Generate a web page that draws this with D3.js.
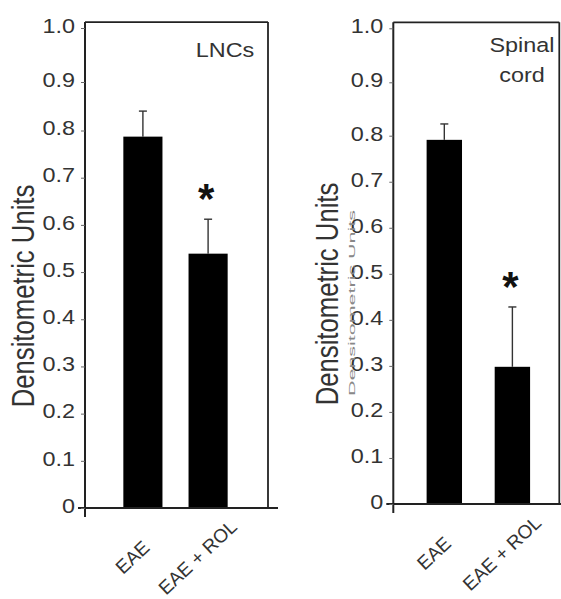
<!DOCTYPE html>
<html>
<head>
<meta charset="utf-8">
<script src="https://cdn.jsdelivr.net/npm/d3@7"></script>
<style>
  html, body { margin: 0; padding: 0; background: #fff; }
  svg { display: block; font-family: "Liberation Sans", Arial, sans-serif; }
</style>
</head>
<body>
<svg id="chart" width="561" height="599"></svg>
<script>
'use strict';

// data
var categories = ['EAE', 'EAE + ROL'];
var lncMeans = [0.787, 0.539];
var lncErrors = [0.053, 0.073];
var cordMeans = [0.791, 0.298];
var cordErrors = [0.031, 0.130];
var significance = ['', '*'];
var yTicks = [0, 0.1, 0.2, 0.3, 0.4, 0.5, 0.6, 0.7, 0.8, 0.9, 1.0];
var yTitle = 'Densitometric Units';

// the source image is stretched sideways, text gets the same squash
var stretch = 1.2;
var textColor = '#333';

var panels = [
  {
    means: lncMeans, errors: lncErrors, label: ['LNCs'],
    x0: 85, x1: 268, yRange: [508, 130.5, 82, 28],
    band: [110.3, 240.7], padIn: 0.4,
    titleX: 33.5, titleY: 296, labelX: 225, labelY: 57, ghost: false
  },
  {
    means: cordMeans, errors: cordErrors, label: ['Spinal', 'cord'],
    x0: 393.3, x1: 559.3, yRange: [504, 135.7, 82.3, 28.3],
    band: [413, 543.7], padIn: 0.48,
    titleX: 338, titleY: 294, labelX: 522, labelY: 52, ghost: true
  }
];

var svg = d3.select('#chart');

panels.forEach(function(p) {
  var g = svg.append('g');

  // axis in the figure is not evenly spaced near the top, so piecewise
  var y = d3.scaleLinear().domain([0, 0.8, 0.9, 1.0]).range(p.yRange);
  var x = d3.scaleBand().domain(categories).range(p.band)
    .paddingInner(p.padIn).paddingOuter(0.2);

  var yBase = y(0), yTop = y(1.011);

  // bars
  g.selectAll('rect.bar')
    .data(categories)
    .enter().append('rect')
    .attr('class', 'bar')
    .attr('x', function(d) { return x(d); })
    .attr('width', x.bandwidth())
    .attr('y', function(d, i) { return y(p.means[i]); })
    .attr('height', function(d, i) { return yBase - y(p.means[i]); })
    .attr('fill', '#000');

  // upper error bars only
  var err = g.selectAll('g.err')
    .data(categories)
    .enter().append('g')
    .attr('class', 'err')
    .attr('stroke', '#333')
    .attr('stroke-width', 1.4);
  err.append('line')
    .attr('x1', function(d) { return x(d) + x.bandwidth() / 2; })
    .attr('x2', function(d) { return x(d) + x.bandwidth() / 2; })
    .attr('y1', function(d, i) { return y(p.means[i]); })
    .attr('y2', function(d, i) { return y(p.means[i] + p.errors[i]); });
  err.append('line')
    .attr('x1', function(d) { return x(d) + x.bandwidth() / 2 - 4; })
    .attr('x2', function(d) { return x(d) + x.bandwidth() / 2 + 4; })
    .attr('y1', function(d, i) { return y(p.means[i] + p.errors[i]); })
    .attr('y2', function(d, i) { return y(p.means[i] + p.errors[i]); });

  // significance stars
  g.selectAll('text.star')
    .data(categories)
    .enter().append('text')
    .attr('class', 'star')
    .attr('x', function(d) { return x(d) + x.bandwidth() / 2 - 2; })
    .attr('y', function(d, i) { return y(p.means[i] + p.errors[i]) - 29 + 23; })
    .attr('text-anchor', 'middle')
    .attr('font-size', 42)
    .attr('font-weight', 'bold')
    .attr('fill', '#111')
    .text(function(d, i) { return significance[i]; });

  // frame
  var frame = g.append('g').attr('fill', 'none').attr('stroke', '#222');
  frame.append('line').attr('x1', p.x0).attr('x2', p.x0)
    .attr('y1', yTop).attr('y2', yBase + 9).attr('stroke-width', 2);
  frame.append('line').attr('x1', p.x0 - 7).attr('x2', Math.min(p.x1 + 10, 561))
    .attr('y1', yBase).attr('y2', yBase).attr('stroke-width', 2);
  frame.append('line').attr('x1', p.x0).attr('x2', p.x1)
    .attr('y1', yTop).attr('y2', yTop).attr('stroke-width', 1.8);
  frame.append('line').attr('x1', p.x1).attr('x2', p.x1)
    .attr('y1', yTop).attr('y2', yBase).attr('stroke-width', 1.8);

  // y axis
  var ax = g.append('g')
    .attr('transform', 'translate(' + p.x0 + ',0)')
    .call(d3.axisLeft(y).tickValues(yTicks).tickSize(4).tickSizeOuter(0)
      .tickFormat(function(d) { return d === 0 ? '0' : d3.format('.1f')(d); }));
  ax.select('.domain').remove();
  ax.selectAll('.tick line').attr('stroke', '#666');
  ax.selectAll('.tick text')
    .attr('font-family', '"Liberation Sans", Arial, sans-serif')
    .attr('font-size', 19.5)
    .attr('fill', textColor)
    .attr('x', -10 / stretch)
    .attr('dy', '0.22em')
    .attr('transform', 'scale(' + stretch + ',1)');

  // y title
  g.append('text')
    .attr('transform', 'translate(' + p.titleX + ',' + p.titleY + ') scale(' + stretch + ',1) rotate(-90)')
    .attr('text-anchor', 'middle')
    .attr('font-size', 25.7)
    .attr('fill', textColor)
    .text(yTitle);

  if (p.ghost) {
    g.append('text')
      .attr('transform', 'translate(355,303) rotate(-90)')
      .attr('text-anchor', 'middle')
      .attr('font-size', 9)
      .attr('fill', '#888')
      .attr('textLength', 186)
      .attr('lengthAdjust', 'spacingAndGlyphs')
      .text(yTitle);
  }

  // panel label
  g.selectAll('text.plabel')
    .data(p.label)
    .enter().append('text')
    .attr('class', 'plabel')
    .attr('transform', function(d, i) {
      return 'translate(' + p.labelX + ',' + (p.labelY + i * 30) + ') scale(' + stretch + ',1)';
    })
    .attr('text-anchor', 'middle')
    .attr('font-size', 19.5)
    .attr('fill', textColor)
    .text(function(d) { return d; });

  // category labels
  g.selectAll('text.cat')
    .data(categories)
    .enter().append('text')
    .attr('class', 'cat')
    .attr('transform', function(d) {
      var cx = x(d) + x.bandwidth() / 2 - 6, cy = yBase + 54;
      return 'translate(' + cx + ',' + cy + ') rotate(-43)';
    })
    .attr('text-anchor', 'middle')
    .attr('font-size', 19)
    .attr('fill', textColor)
    .text(function(d) { return d; });
});
</script>
</body>
</html>
